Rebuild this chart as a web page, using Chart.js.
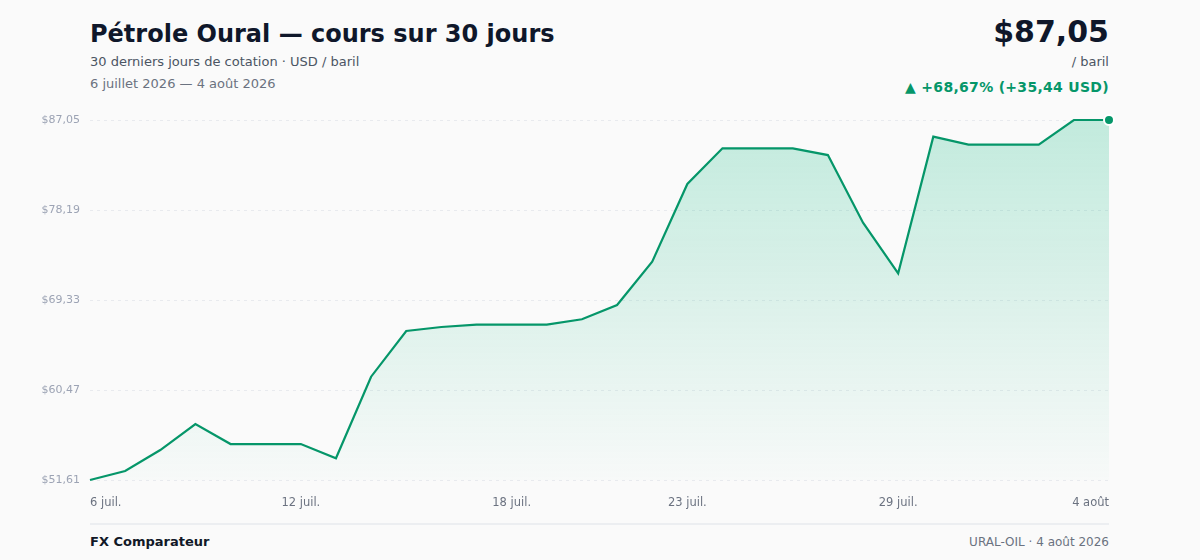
<!DOCTYPE html>
<html lang="fr">
<head>
<meta charset="utf-8">
<script src="https://cdn.jsdelivr.net/npm/chart.js@4/dist/chart.umd.min.js"></script>
<style>
  html, body { margin: 0; padding: 0; }
  body {
    width: 1200px; height: 560px; background: #fafafa; position: relative; overflow: hidden;
    font-family: "DejaVu Sans", sans-serif; color: #0f172a;
  }
  .title { position: absolute; left: 90px; top: 20px; font-size: 24px; font-weight: bold; color: #0f172a; }
  .sub { position: absolute; left: 90px; top: 54px; font-size: 13px; color: #4b5563; }
  .dates { position: absolute; left: 90px; top: 76px; font-size: 13px; color: #6b7280; }
  .price { position: absolute; right: 91px; top: 14px; font-size: 30px; font-weight: bold; color: #0f172a; }
  .unit { position: absolute; right: 91px; top: 54px; font-size: 13px; color: #4b5563; }
  .change { position: absolute; right: 91px; top: 79px; font-size: 14px; font-weight: bold; color: #059669; letter-spacing: 0.3px; }
  #wrap { position: absolute; left: 0; top: 100px; width: 1200px; height: 420px; }
  .rule { position: absolute; left: 90px; top: 523px; width: 1019px; height: 2px; background: #eceef1; }
  .brand { position: absolute; left: 90px; top: 534px; font-size: 13px; font-weight: bold; color: #111827; }
  .src { position: absolute; right: 91px; top: 535px; font-size: 12px; color: #6b7280; }
</style>
</head>
<body>
<div class="title">Pétrole Oural — cours sur 30 jours</div>
<div class="sub">30 derniers jours de cotation · USD / baril</div>
<div class="dates">6 juillet 2026 — 4 août 2026</div>
<div class="price">$87,05</div>
<div class="unit">/ baril</div>
<div class="change">▲ +68,67% (+35,44 USD)</div>
<div id="wrap"><canvas id="oilChart"></canvas></div>
<div class="rule"></div>
<div class="brand">FX Comparateur</div>
<div class="src">URAL-OIL · 4 août 2026</div>

<script>
// Jours (calendrier) et cours de clôture
const days = [
  '6 juil.', '7 juil.', '8 juil.', '9 juil.', '10 juil.', '11 juil.', '12 juil.', '13 juil.',
  '14 juil.', '15 juil.', '16 juil.', '17 juil.', '18 juil.', '19 juil.', '20 juil.', '21 juil.',
  '22 juil.', '23 juil.', '24 juil.', '25 juil.', '26 juil.', '27 juil.', '28 juil.', '29 juil.',
  '30 juil.', '31 juil.', '1 août', '2 août', '3 août', '4 août'
];
const prices = [
  51.61, 52.50, 54.56, 57.12, 55.15, 55.15, 55.15, 53.75,
  61.78, 66.28, 66.67, 66.90, 66.90, 66.90, 67.43, 68.84,
  73.10, 80.75, 84.26, 84.26, 84.26, 83.60, 76.94, 71.96,
  85.41, 84.62, 84.62, 84.62, 87.05, 87.05
];
const shownDays = ['6 juil.', '12 juil.', '18 juil.', '23 juil.', '29 juil.', '4 août'];
const yTicks = [51.61, 60.47, 69.33, 78.19, 87.05];

const green = '#059669';
const lastIndex = prices.length - 1;

function fmtUsd(v) {
  return '$' + v.toFixed(2).replace('.', ',');
}

const ctx = document.getElementById('oilChart').getContext('2d');

const oilChart = new Chart(ctx, {
  type: 'line',
  data: {
    labels: days,
    datasets: [{
      label: 'Oural',
      data: prices,
      borderColor: green,
      borderWidth: 2.2,
      tension: 0,
      fill: 'start',
      backgroundColor: function(context) {
        const area = context.chart.chartArea;
        if (!area) return 'rgba(16,185,129,0.2)';
        const g = context.chart.ctx.createLinearGradient(0, area.top, 0, area.bottom);
        g.addColorStop(0, 'rgba(16,185,129,0.24)');
        g.addColorStop(1, 'rgba(16,185,129,0.01)');
        return g;
      },
      pointRadius: c => (c.dataIndex === lastIndex ? 5 : 0),
      pointHoverRadius: 0,
      pointBackgroundColor: green,
      pointBorderColor: '#ffffff',
      pointBorderWidth: 2
    }]
  },
  options: {
    responsive: true,
    maintainAspectRatio: false,
    animation: false,
    layout: { padding: { top: 20, right: 91, bottom: 0, left: 0 } },
    clip: false,
    plugins: {
      legend: { display: false },
      tooltip: { enabled: false }
    },
    scales: {
      x: {
        offset: false,
        grid: { display: false },
        border: { display: false },
        afterFit: s => { s.height = 40; },
        ticks: {
          autoSkip: false,
          maxRotation: 0,
          align: 'inner',
          padding: 8,
          color: '#6b7280',
          font: { family: 'DejaVu Sans', size: 11.5 },
          callback: function(value, index) {
            const lab = days[index];
            return shownDays.includes(lab) ? lab : '';
          }
        }
      },
      y: {
        min: yTicks[0],
        max: yTicks[yTicks.length - 1],
        afterFit: s => { s.width = 90; },
        afterBuildTicks: s => { s.ticks = yTicks.map(v => ({ value: v })); },
        grid: { color: '#e8eaee', lineWidth: 1, drawTicks: false },
        border: { display: false, dash: [3, 4] },
        ticks: {
          padding: 10,
          color: '#9ca3b4',
          font: { family: 'DejaVu Sans', size: 11 },
          callback: v => fmtUsd(v)
        }
      }
    }
  }
});
</script>
</body>
</html>
